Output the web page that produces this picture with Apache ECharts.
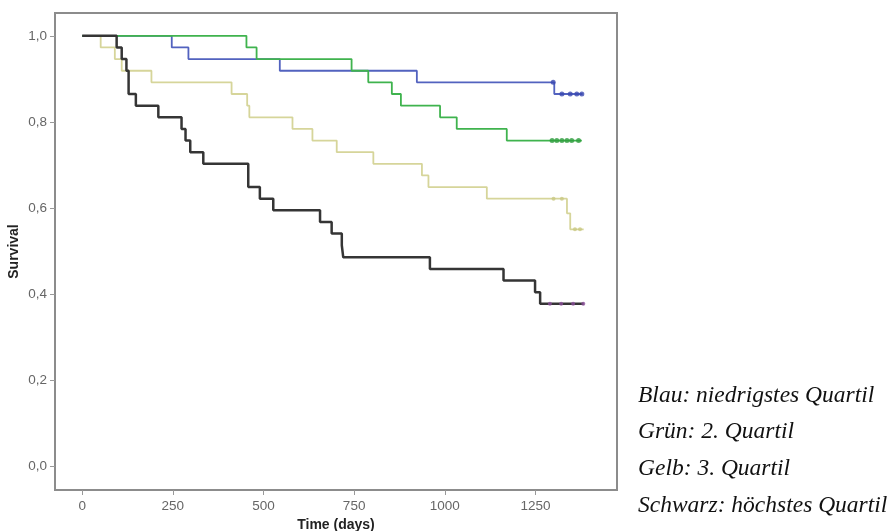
<!DOCTYPE html>
<html>
<head>
<meta charset="utf-8">
<script src="https://cdn.jsdelivr.net/npm/echarts@6/dist/echarts.min.js"></script>
<style>
html,body{margin:0;padding:0;background:#fff;}
#chart{width:894px;height:531px;}
</style>
</head>
<body>
<div id="chart"></div>
<script>
// Tick labels
const xTicks = [0, 250, 500, 750, 1000, 1250];
const yTicks = [0, 0.2, 0.4, 0.6, 0.8, 1.0];

// Blau: niedrigstes Quartil
const blueTimes = [0, 247, 293, 545, 923, 1302, 1380];
const blueSurv  = [1.0, 0.973, 0.946, 0.919, 0.892, 0.865, 0.865];
const blueCensorT = [1299, 1323, 1346, 1364, 1378];
const blueCensorS = [0.892, 0.865, 0.865, 0.865, 0.865];

// Grün: 2. Quartil
const greenTimes = [0, 453, 481, 743, 789, 854, 879, 987, 1033, 1171, 1378];
const greenSurv  = [1.0, 0.973, 0.946, 0.919, 0.892, 0.865, 0.838, 0.811, 0.784, 0.757, 0.757];
const greenCensorT = [1296, 1309, 1323, 1337, 1350, 1369];
const greenCensorS = [0.757, 0.757, 0.757, 0.757, 0.757, 0.757];

// Gelb: 3. Quartil
const yellowTimes = [0, 51, 90, 109, 191, 412, 455, 461, 580, 635, 702, 803, 937, 955, 1116, 1337, 1346, 1383];
const yellowSurv  = [1.0, 0.973, 0.946, 0.919, 0.892, 0.865, 0.838, 0.811, 0.784, 0.757, 0.730, 0.703, 0.676, 0.649, 0.622, 0.588, 0.551, 0.551];
const yellowCensorT = [1300, 1323, 1359, 1373];
const yellowCensorS = [0.622, 0.622, 0.551, 0.551];

// Schwarz: höchstes Quartil
const blackTimes = [0, 95, 109, 122, 128, 148, 210, 274, 285, 298, 334, 458, 490, 527, 656, 688, 716, 720, 959, 1162, 1249, 1263, 1383];
const blackSurv  = [1.0, 0.973, 0.946, 0.919, 0.865, 0.838, 0.811, 0.784, 0.757, 0.730, 0.703, 0.649, 0.622, 0.595, 0.568, 0.541, 0.514, 0.486, 0.459, 0.432, 0.405, 0.378, 0.378];
const blackCensorT = [1290, 1321, 1354, 1382];
const blackCensorS = [0.378, 0.378, 0.378, 0.378];

const legendLines = [
  'Blau: niedrigstes Quartil',
  'Grün: 2. Quartil',
  'Gelb: 3. Quartil',
  'Schwarz: höchstes Quartil'
];

function pairs(t, s) { return t.map((v, i) => [v, s[i]]); }

function stepSeries(name, t, s, color, width, z) {
  return {
    name: name, type: 'line', step: 'end', data: pairs(t, s),
    showSymbol: false, symbol: 'none', z: z,
    lineStyle: { color: color, width: width }, animation: false
  };
}
function censorSeries(name, t, s, color, size) {
  return {
    name: name, type: 'scatter', data: pairs(t, s),
    symbol: 'circle', symbolSize: size, z: 10,
    itemStyle: { color: color }, animation: false
  };
}

const chart = echarts.init(document.getElementById('chart'), null, { renderer: 'canvas' });
const tickLabelStyle = { color: '#666', fontSize: 13.5, fontFamily: 'Liberation Sans, Arial, sans-serif' };
const nameStyle = { color: '#222', fontSize: 14, fontWeight: 'bold', fontFamily: 'Liberation Sans, Arial, sans-serif' };

chart.setOption({
  backgroundColor: '#fff',
  animation: false,
  grid: { left: 55, top: 13, width: 562, height: 477, containLabel: false, outerBoundsMode: 'none', show: true, borderColor: '#8c8c8c', borderWidth: 2, backgroundColor: '#fff' },
  xAxis: {
    type: 'value', min: -75, max: 1475,
    name: 'Time (days)', nameLocation: 'middle', nameGap: 27,
    nameTextStyle: nameStyle,
    axisLine: { show: true, onZero: false, lineStyle: { color: '#8c8c8c', width: 2 } },
    axisTick: { show: true, customValues: xTicks, length: 5, lineStyle: { color: '#999' } },
    axisLabel: Object.assign({ customValues: xTicks, margin: 9, formatter: v => String(v) }, tickLabelStyle),
    splitLine: { show: false }
  },
  yAxis: {
    type: 'value', min: -0.054, max: 1.053,
    name: 'Survival', nameLocation: 'middle', nameGap: 34, nameRotate: 90, nameMoveOverlap: false,
    nameTextStyle: nameStyle,
    axisLine: { show: true, onZero: false, lineStyle: { color: '#8c8c8c', width: 2 } },
    axisTick: { show: true, customValues: yTicks, length: 5, lineStyle: { color: '#999' } },
    axisLabel: Object.assign({ customValues: yTicks, margin: 8, formatter: v => v.toFixed(1).replace('.', ',') }, tickLabelStyle),
    splitLine: { show: false }
  },
  series: [
    stepSeries('Gelb', yellowTimes, yellowSurv, '#d6d59a', 1.8, 2),
    stepSeries('Blau', blueTimes, blueSurv, '#5262bf', 1.8, 3),
    stepSeries('Grün', greenTimes, greenSurv, '#3fb34e', 1.8, 4),
    stepSeries('Schwarz', blackTimes, blackSurv, '#353535', 2.5, 5),
    censorSeries('Blau zensiert', blueCensorT, blueCensorS, '#3a48b0', 5),
    censorSeries('Grün zensiert', greenCensorT, greenCensorS, '#2f9e3f', 5),
    censorSeries('Gelb zensiert', yellowCensorT, yellowCensorS, '#c9c883', 4),
    censorSeries('Schwarz zensiert', blackCensorT, blackCensorS, '#8a4d98', 4)
  ],
  graphic: legendLines.map((txt, i) => ({
    type: 'text', left: 638, top: 384 + i * 36.7,
    style: { text: txt, fill: '#111', font: 'italic 23.5px "Liberation Serif", "Times New Roman", serif' }
  }))
});
</script>
</body>
</html>
